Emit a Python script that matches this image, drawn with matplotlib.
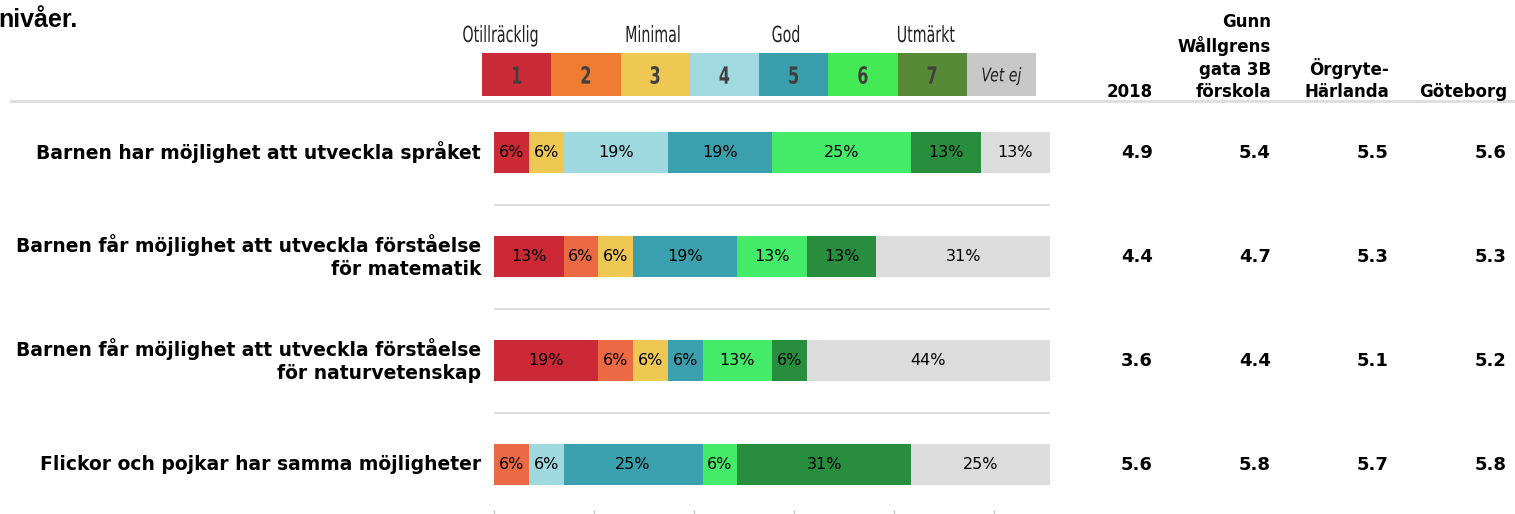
import numpy as np
import matplotlib
matplotlib.use("Agg")
import matplotlib.pyplot as plt
from matplotlib.transforms import blended_transform_factory, Affine2D
from matplotlib.patheffects import AbstractPathEffect

# statements (top to bottom)
questions = [
    "Barnen har möjlighet att utveckla språket",
    "Barnen får möjlighet att utveckla förståelse\nför matematik",
    "Barnen får möjlighet att utveckla förståelse\nför naturvetenskap",
    "Flickor och pojkar har samma möjligheter",
]
# share of answers per grade 1..7 and "Vet ej", in percent
grade_1 = [6.25, 12.5, 18.75, 0]
grade_2 = [0, 6.25, 6.25, 6.25]
grade_3 = [6.25, 6.25, 6.25, 0]
grade_4 = [18.75, 0, 0, 6.25]
grade_5 = [18.75, 18.75, 6.25, 25]
grade_6 = [25, 12.5, 12.5, 6.25]
grade_7 = [12.5, 12.5, 6.25, 31.25]
vet_ej = [12.5, 31.25, 43.75, 25]

# mean values for comparison columns
col_headers = ["2018", "Gunn\nWållgrens\ngata 3B\nförskola", "Örgryte-\nHärlanda", "Göteborg"]
val_2018 = [4.9, 4.4, 3.6, 5.6]
val_school = [5.4, 4.7, 4.4, 5.8]
val_district = [5.5, 5.3, 5.1, 5.7]
val_city = [5.6, 5.3, 5.2, 5.8]

legend_keys = ["1", "2", "3", "4", "5", "6", "7", "Vet ej"]
legend_words = ["Otillräcklig", "Minimal", "God", "Utmärkt"]

bar_colors = ["#CC2936", "#EC6A43", "#EEC853", "#9ED9E0", "#3AA0AD", "#43EB68", "#288E3E", "#DCDCDC"]
key_colors = ["#CB2B39", "#EE7D31", "#EEC853", "#A0D9E0", "#3A9FAC", "#43EA55", "#588937", "#C8C8C8"]

W, H = 1515, 514
fig = plt.figure(figsize=(W / 100, H / 100), dpi=100)


def fx(px):
    return px / W


def fy(py):
    return 1 - py / H


class Squeeze(AbstractPathEffect):
    """Draw text narrower (fake condensed font) around display x0."""

    def __init__(self, x0, sx):
        super().__init__()
        self.x0 = x0
        self.sx = sx

    def draw_path(self, renderer, gc, tpath, affine, rgbFace=None):
        t = affine + Affine2D().translate(-self.x0, 0).scale(self.sx, 1).translate(self.x0, 0)
        renderer.draw_path(gc, tpath, t, rgbFace)


def squeezed_text(axes, x, y, s, sx, **kw):
    x0 = axes.transData.transform((x, y))[0]
    return axes.text(x, y, s, path_effects=[Squeeze(x0, sx)], **kw)


# page title fragment, cut at the left edge
fig.text(fx(-2), fy(27), "nivåer.", fontsize=18, fontweight="bold",
         family=["Liberation Sans", "DejaVu Sans"], ha="left", va="baseline")

# thin rule under the header
fig.add_artist(plt.Line2D([fx(11), fx(1515)], [fy(100.5), fy(100.5)], color="#DDDDDD", lw=2))

# ---- main bar axes ----
ax = fig.add_axes([fx(494), fy(510), fx(1050) - fx(494), fy(101) - fy(510)])
n = len(questions)
row_step = 104
top_off = (152.5 - 101) / row_step
ax.set_ylim(-top_off + 409 / row_step, -top_off)
ax.set_xlim(0, 100)

series = [grade_1, grade_2, grade_3, grade_4, grade_5, grade_6, grade_7, vet_ej]
y = np.arange(n)
left = np.zeros(n)
for vals, col in zip(series, bar_colors):
    vals = np.array(vals)
    ax.barh(y, vals, left=left, height=41 / row_step, color=col, edgecolor="none")
    for yi, l, v in zip(y, left, vals):
        if v > 0:
            ax.text(l + v / 2, yi, f"{int(v + 0.5)}%", ha="center", va="center",
                    fontsize=11.5, color="black", family="DejaVu Sans")
    left += vals

for i in range(n - 1):
    ax.plot([0, 100], [i + 0.5, i + 0.5], color="#D9D9D9", lw=1.2)

for s in ax.spines.values():
    s.set_visible(False)
ax.set_yticks([])
ax.set_xticks(np.arange(0, 100, 18))
ax.set_xticklabels([])
ax.tick_params(axis="x", length=3, width=1, color="#C8C8C8", direction="out")

tr = blended_transform_factory(fig.transFigure, ax.transData)
for yi, q in zip(y, questions):
    ax.text(fx(481), yi, q, transform=tr, ha="right", va="center", fontsize=13.5,
            fontweight="bold", linespacing=1.3, family="DejaVu Sans")

col_right = [1153, 1271, 1389, 1507]
for xr, vals in zip(col_right, [val_2018, val_school, val_district, val_city]):
    for yi, v in zip(y, vals):
        ax.text(fx(xr), yi, f"{v:.1f}", transform=tr, ha="right", va="center",
                fontsize=13, fontweight="bold", family="DejaVu Sans")

for xr, h in zip(col_right, col_headers):
    fig.text(fx(xr), fy(97), h, ha="right", va="baseline", fontsize=12,
             fontweight="bold", linespacing=1.32, family="DejaVu Sans")

# ---- scale key ----
axk = fig.add_axes([fx(482), fy(96), fx(1036) - fx(482), fy(53) - fy(96)])
kx = np.arange(len(legend_keys))
axk.bar(kx + 0.5, np.ones(len(kx)), width=1, color=key_colors, edgecolor="none")
axk.set_xlim(0, len(legend_keys))
axk.set_ylim(0, 1)
axk.axis("off")
for xi, k in zip(kx, legend_keys):
    if k == "Vet ej":
        squeezed_text(axk, xi + 0.5, 0.47, k, 0.75, ha="center", va="center", fontsize=13.5,
                      style="italic", color="#222222", family="DejaVu Sans")
    else:
        squeezed_text(axk, xi + 0.5, 0.45, k, 0.68, ha="center", va="center", fontsize=17,
                      fontweight="bold", color="#404040", family="DejaVu Sans")

word_pos = [0.27, 2.47, 4.39, 6.41]
for xp, w in zip(word_pos, legend_words):
    squeezed_text(axk, xp, (96 - 36) / 43, w, 0.64, ha="center", va="center", fontsize=16,
                  color="#222222", family="DejaVu Sans")

fig.savefig("out.png", dpi=100)
